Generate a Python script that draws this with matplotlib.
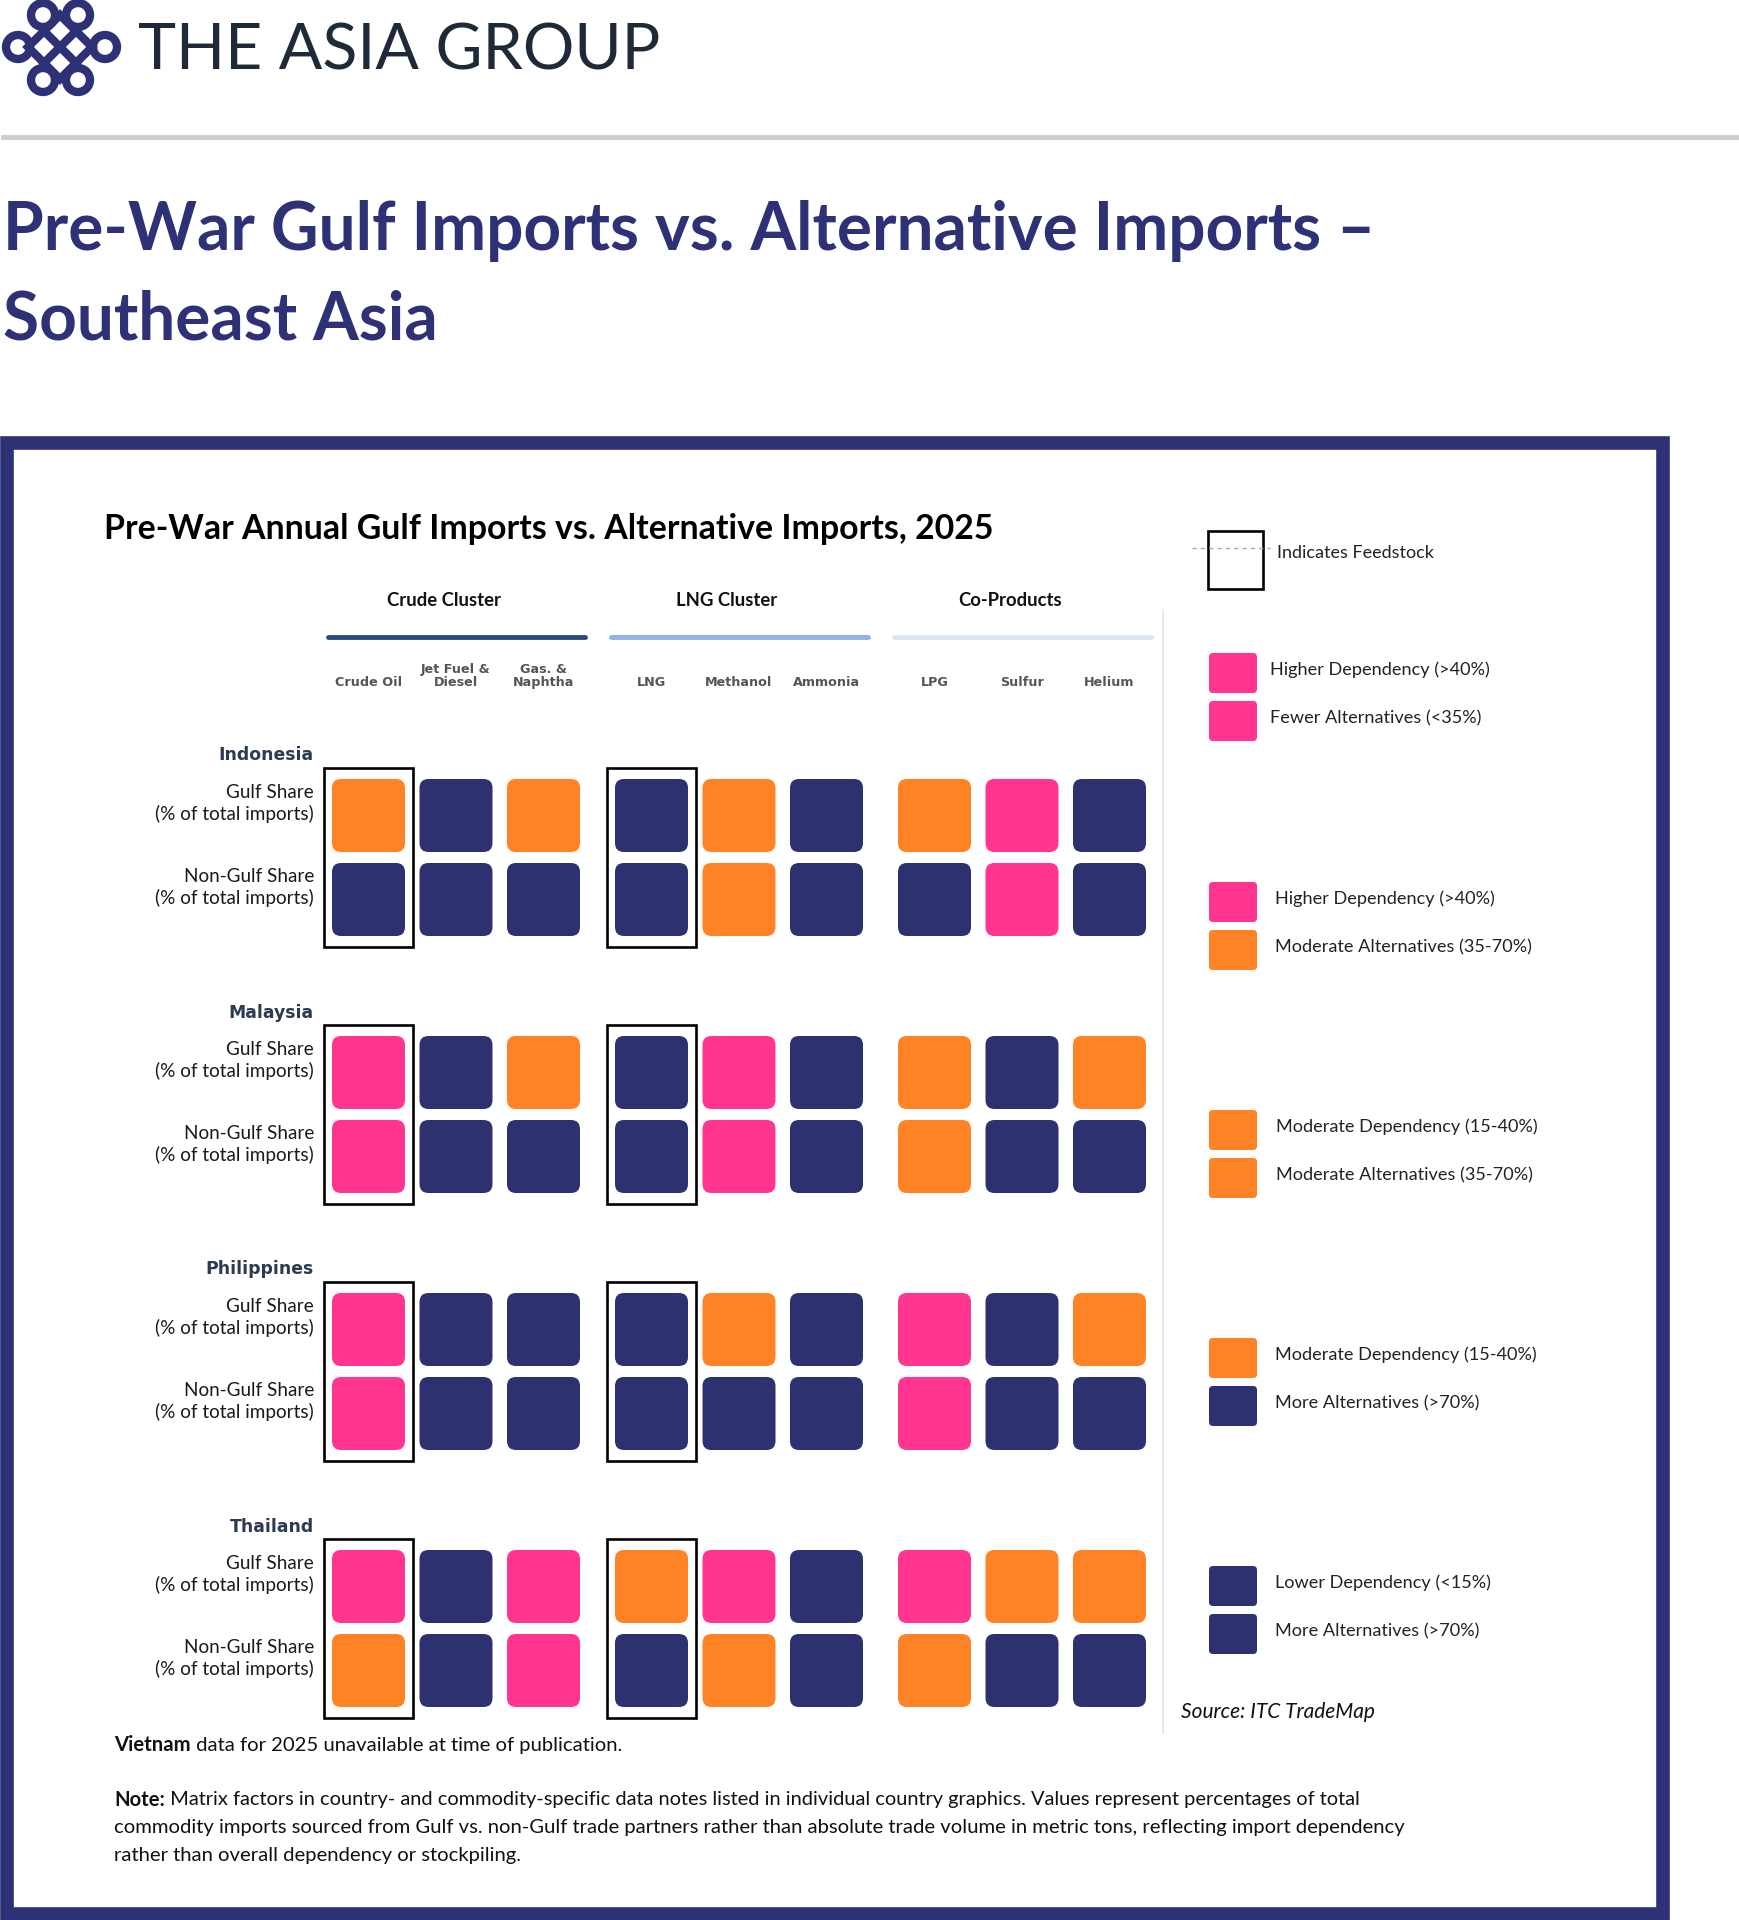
import matplotlib.pyplot as plt
from matplotlib.patches import FancyBboxPatch, Rectangle, Circle, Polygon

# ---- data ----
countries = ["Indonesia", "Malaysia", "Philippines", "Thailand"]
clusters = ["Crude Cluster", "LNG Cluster", "Co-Products"]
commodities = ["Crude Oil", "Jet Fuel &\nDiesel", "Gas. &\nNaphtha",
               "LNG", "Methanol", "Ammonia",
               "LPG", "Sulfur", "Helium"]
feedstock_cols = [0, 3]  # Crude Oil, LNG
row_labels = ["Gulf Share\n(% of total imports)", "Non-Gulf Share\n(% of total imports)"]

# 2 = higher dependency / fewer alternatives, 1 = moderate, 0 = lower dependency / more alternatives
gulf_indonesia = [1, 0, 1, 0, 1, 0, 1, 2, 0]
nongulf_indonesia = [0, 0, 0, 0, 1, 0, 0, 2, 0]
gulf_malaysia = [2, 0, 1, 0, 2, 0, 1, 0, 1]
nongulf_malaysia = [2, 0, 0, 0, 2, 0, 1, 0, 0]
gulf_philippines = [2, 0, 0, 0, 1, 0, 2, 0, 1]
nongulf_philippines = [2, 0, 0, 0, 0, 0, 2, 0, 0]
gulf_thailand = [2, 0, 2, 1, 2, 0, 2, 1, 1]
nongulf_thailand = [1, 0, 2, 0, 1, 0, 1, 0, 0]

matrix = [
    (gulf_indonesia, nongulf_indonesia),
    (gulf_malaysia, nongulf_malaysia),
    (gulf_philippines, nongulf_philippines),
    (gulf_thailand, nongulf_thailand),
]

legend_codes = [(2, 2), (2, 1), (1, 1), (1, 0), (0, 0)]
legend_labels = [
    ("Higher Dependency (>40%)", "Fewer Alternatives (<35%)"),
    ("Higher Dependency (>40%)", "Moderate Alternatives (35-70%)"),
    ("Moderate Dependency (15-40%)", "Moderate Alternatives (35-70%)"),
    ("Moderate Dependency (15-40%)", "More Alternatives (>70%)"),
    ("Lower Dependency (<15%)", "More Alternatives (>70%)"),
]

palette = {0: "#2D3170", 1: "#FF8324", 2: "#FF358F"}
NAVY = "#2E3175"
cluster_colors = ["#2B4B7E", "#8FB3E3", "#DCE6F2"]

note_lines = [
    " Matrix factors in country- and commodity-specific data notes listed in individual country graphics. Values represent percentages of total",
    "commodity imports sourced from Gulf vs. non-Gulf trade partners rather than absolute trade volume in metric tons, reflecting import dependency",
    "rather than overall dependency or stockpiling.",
]

plt.rcParams["font.family"] = ["Lato", "DejaVu Sans"]

W, H = 1739, 1920
fig = plt.figure(figsize=(W / 100, H / 100), dpi=100)
ax = fig.add_axes([0, 0, 1, 1])
ax.set_xlim(0, W)
ax.set_ylim(H, 0)
ax.axis("off")
renderer = fig.canvas.get_renderer()


def fit_width(txt, width):
    # scale the font so the rendered text spans the given pixel width
    w = txt.get_window_extent(renderer).width
    txt.set_fontsize(txt.get_fontsize() * width / w)
    return txt.get_fontsize()


# ---- header: logo, company name, rule, title ----
for cx, cy in [(43, 15), (78, 15), (18, 47), (105, 47), (43, 80), (78, 80)]:
    ax.add_patch(Circle((cx, cy), 12, fill=False, ec=NAVY, lw=6))
d = 32
ax.add_patch(Polygon([(60, 47 - d), (60 + d, 47), (60, 47 + d), (60 - d, 47)],
                     closed=True, fill=False, ec=NAVY, lw=6))
ax.plot([60 - d / 2, 60 + d / 2], [47 - d / 2, 47 + d / 2], color=NAVY, lw=6)
ax.plot([60 + d / 2, 60 - d / 2], [47 - d / 2, 47 + d / 2], color=NAVY, lw=6)

t = ax.text(138, 70, "THE ASIA GROUP", fontsize=40, fontweight="normal",
            color="#1E2A38", va="baseline")
fit_width(t, 523)

ax.plot([3, W], [137, 137], color="#C9CED3", lw=3.5)

t1 = ax.text(3, 250, "Pre-War Gulf Imports vs. Alternative Imports –", fontsize=44,
             fontweight="bold", color=NAVY, va="baseline")
size = fit_width(t1, 1373)
ax.text(3, 339, "Southeast Asia", fontsize=size, fontweight="bold", color=NAVY, va="baseline")

# ---- framed chart ----
ax.add_patch(Rectangle((7, 442.5), 1655.5, 1471, fill=False, ec=NAVY, lw=9.8))

t = ax.text(104, 529, "Pre-War Annual Gulf Imports vs. Alternative Imports, 2025",
            fontsize=22, fontweight="bold", color="black", va="center")
fit_width(t, 888)

col_x = [368.5 + (c // 3) * 283 + (c % 3) * 87.5 for c in range(len(commodities))]
sq = 73
row_pitch = 84
group_pitch = 257
first_row = 815.5

for k, name in enumerate(clusters):
    mid = col_x[3 * k + 1]
    ax.text(mid - 12, 601, name, fontsize=13.3, fontweight="bold", color="#111111",
            ha="center", va="center")
    ax.plot([col_x[3 * k] - 41, col_x[3 * k + 2] + 41], [637, 637],
            color=cluster_colors[k], lw=3.5, solid_capstyle="round")

for c, name in enumerate(commodities):
    ax.text(col_x[c], 689, name, fontsize=9.2, fontweight="bold", color="#555555",
            family="DejaVu Sans", ha="center", va="bottom", linespacing=1.0)

for i, country in enumerate(countries):
    y_gulf = first_row + i * group_pitch
    ax.text(314, y_gulf - 60, country, fontsize=12.4, fontweight="bold",
            family="DejaVu Sans", color="#2C3B52", ha="right", va="center")
    for r, values in enumerate(matrix[i]):
        y = y_gulf + r * row_pitch
        ax.text(314, y - 12, row_labels[r], fontsize=13.6, color="#1A1A1A",
                ha="right", va="center", linespacing=1.25)
        for c, v in enumerate(values):
            ax.add_patch(FancyBboxPatch((col_x[c] - sq / 2, y - sq / 2), sq, sq,
                                        boxstyle="round,pad=0,rounding_size=9",
                                        fc=palette[v], ec="none"))
    for c in feedstock_cols:
        top = y_gulf - sq / 2 - 11
        bottom = y_gulf + row_pitch + sq / 2 + 11
        ax.add_patch(Rectangle((col_x[c] - 45, top), 89, bottom - top,
                               fill=False, ec="black", lw=1.9))

# separator between matrix and legend
ax.plot([1163, 1163], [610, 1733], color="#E6E6E6", lw=1.2)

# ---- legend ----
ax.add_patch(Rectangle((1208, 531), 55, 58, fill=False, ec="black", lw=1.9))
ax.plot([1192, 1270], [548, 548], color="#AAAAAA", lw=1, ls=(0, (3, 3)))
ax.text(1277, 553, "Indicates Feedstock", fontsize=13, color="#222222", va="center")

legend_y = [673, 902, 1130, 1358, 1586]
legend_text_x = [1270, 1275, 1276, 1275, 1275]
for g, (codes, labels) in enumerate(zip(legend_codes, legend_labels)):
    for j in range(2):
        y = legend_y[g] + j * 48
        ax.add_patch(FancyBboxPatch((1209, y - 20), 48, 40,
                                    boxstyle="round,pad=0,rounding_size=4",
                                    fc=palette[codes[j]], ec="none"))
        ax.text(legend_text_x[g], y - 3, labels[j], fontsize=13.1, color="#222222", va="center")

ax.text(1181, 1712, "Source: ITC TradeMap", fontsize=15, fontstyle="italic",
        color="#111111", va="center")

# ---- notes ----
t = ax.text(114, 1827, note_lines[1], fontsize=13, color="#111111", va="center")
note_size = fit_width(t, 1303) * 0.988
t.set_fontsize(note_size)
ax.text(114, 1855, note_lines[2], fontsize=note_size, color="#111111", va="center")

nb = ax.text(114, 1800, "Note:", fontsize=note_size, fontweight="bold", color="#111111", va="center")
ax.annotate(note_lines[0], xy=(1, 0.5), xycoords=nb, va="center",
            fontsize=note_size * 0.99, color="#111111")

vb = ax.text(114, 1745, "Vietnam", fontsize=note_size, fontweight="bold", color="#111111", va="center")
ax.annotate(" data for 2025 unavailable at time of publication.", xy=(1, 0.5), xycoords=vb,
            va="center", fontsize=note_size, color="#111111")

fig.savefig("out.png", dpi=100, facecolor="white")
